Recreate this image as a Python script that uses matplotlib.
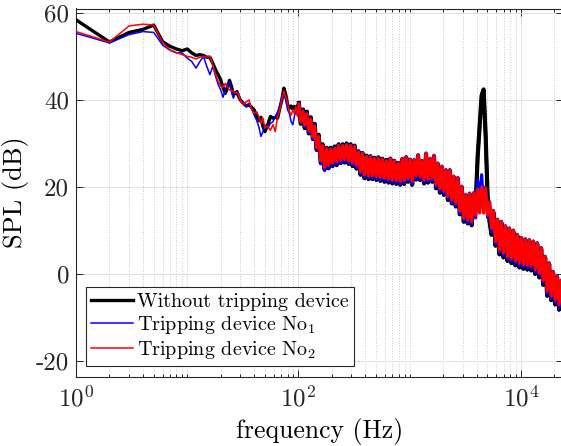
import matplotlib
matplotlib.use("Agg")
import matplotlib.pyplot as plt
from matplotlib.ticker import LogLocator, FixedLocator, FuncFormatter, NullFormatter

plt.rcParams["font.family"] = "serif"
plt.rcParams["font.serif"] = ["cmr10", "DejaVu Serif"]
plt.rcParams["mathtext.fontset"] = "cm"
plt.rcParams["axes.formatter.use_mathtext"] = True
plt.rcParams["axes.unicode_minus"] = False

# frequency axis (Hz), 1 Hz steps at the low end
freq_low = [1, 2, 3, 4, 5, 6, 7, 8, 9, 10, 11, 12, 13, 14, 15, 16, 17, 18, 19, 20,
            21, 22, 23, 24, 25, 26, 27, 28, 29, 30, 32, 34, 36, 38, 40, 42, 44, 46, 48, 50,
            53, 56, 59, 62, 65, 68, 71, 74, 77, 80, 83, 86, 89, 92, 95, 98]
freq_high = [101, 105, 110, 114, 119, 124, 129, 135, 140, 146,
             152, 159, 165, 172, 180, 187, 195, 203, 212, 221,
             230, 240, 250, 260, 271, 283, 295, 307, 320, 333,
             347, 362, 377, 393, 410, 427, 445, 463, 483, 503,
             524, 546, 569, 593, 618, 644, 671, 699, 728, 759,
             791, 824, 858, 894, 932, 971, 1012, 1054, 1098, 1144,
             1192, 1242, 1294, 1349, 1405, 1464, 1526, 1590, 1656, 1726,
             1798, 1874, 1952, 2034, 2120, 2209, 2301, 2398, 2498, 2603,
             2712, 2826, 2945, 3068, 3197, 3331, 3471, 3617, 3768, 3927,
             4091, 4263, 4442, 4629, 4823, 5025, 5236, 5456, 5685, 5924,
             6172, 6431, 6701, 6983, 7276, 7581, 7899, 8231, 8576, 8936,
             9311, 9702, 10109, 10533, 10975, 11436, 11916, 12416, 12937, 13480,
             14046, 14635, 15250, 15890, 16557, 17252, 17976, 18731, 19517, 20336,
             21190, 22079, 23006, 23971]

# SPL (dB), without tripping device
spl_ref_low = [58.4, 53.3, 55.5, 56.2, 57.2, 53.4, 52.3, 51.7, 51.3, 51.7,
               50.8, 50.2, 50.4, 50.2, 49.8, 49.8, 48.4, 46.9, 45.8, 44.6,
               42.9, 41.5, 42.7, 44.5, 43.1, 41.2, 41.5, 41.9, 40.8, 40.0,
               39.2, 38.6, 38.9, 38.3, 37.7, 36.2, 35.2, 36.0, 33.9, 32.7,
               34.3, 36.2, 35.8, 36.0, 35.8, 38.1, 40.0, 42.7, 41.2, 38.9,
               38.1, 38.6, 37.9, 38.5, 37.7, 38.6]
spl_ref_high = [39.3, 34.5, 37.8, 33.5, 37.3, 32.3, 36.0, 31.0, 34.5, 28.5,
                32.0, 25.5, 29.8, 24.0, 29.0, 24.3, 29.0, 24.8, 29.3, 25.0,
                29.8, 25.5, 29.8, 25.6, 30.0, 25.3, 29.8, 24.8, 29.5, 24.2,
                28.2, 22.8, 27.8, 22.0, 27.2, 21.8, 27.0, 21.8, 26.7, 21.6,
                26.8, 21.4, 26.5, 21.2, 26.2, 21.0, 26.5, 20.8, 26.0, 20.7,
                25.5, 20.5, 26.3, 20.7, 26.8, 21.2, 26.2, 20.5, 26.0, 21.7,
                27.2, 21.6, 25.8, 20.8, 27.5, 21.0, 26.3, 21.2, 27.0, 19.7,
                25.2, 18.7, 24.5, 18.2, 23.7, 17.0, 23.7, 16.2, 22.2, 15.5,
                21.9, 13.7, 19.9, 12.0, 18.0, 11.6, 18.3, 11.2, 18.0, 16.0,
                27.0, 34.0, 41.0, 42.4, 32.0, 18.0, 12.0, 9.0, 14.0, 6.5,
                12.2, 4.5, 11.7, 3.8, 10.7, 3.0, 10.2, 2.5, 9.7, 2.0,
                8.8, 1.5, 8.1, 1.2, 7.9, 1.0, 7.6, 0.8, 7.3, 0.0,
                6.9, -0.8, 5.8, -2.5, 3.8, -5.0, 2.3, -6.0, 0.3, -7.0,
                -0.7, -8.2, -1.7, -9.5]

# SPL (dB), tripping device No1
spl_no1_low = [55.3, 53.1, 55.0, 55.7, 55.5, 52.6, 51.4, 50.8, 50.8, 49.6,
               48.8, 47.3, 48.8, 50.0, 47.7, 45.8, 47.7, 45.4, 43.5, 42.3,
               40.6, 42.3, 43.8, 44.2, 41.9, 40.4, 41.5, 41.9, 41.4, 40.0,
               39.2, 38.5, 39.2, 38.1, 36.5, 35.4, 33.9, 31.6, 32.7, 34.3,
               33.5, 34.6, 35.0, 36.2, 37.3, 38.5, 40.8, 41.2, 40.0, 37.7,
               36.9, 35.0, 34.3, 36.2, 37.7, 36.5]
spl_no1_high = [39.2, 34.8, 37.5, 33.8, 37.0, 32.5, 35.7, 31.0, 34.2, 28.5,
                31.7, 25.3, 29.6, 23.8, 28.9, 24.4, 28.8, 24.9, 29.0, 25.2,
                29.7, 25.6, 29.6, 25.7, 29.9, 25.4, 29.6, 25.0, 29.4, 24.4,
                28.1, 23.0, 27.9, 22.2, 27.1, 22.0, 27.2, 22.0, 26.6, 21.8,
                26.7, 21.6, 26.5, 21.4, 26.1, 21.2, 26.6, 21.0, 26.1, 20.9,
                25.5, 20.7, 26.6, 20.9, 26.9, 21.4, 26.4, 20.7, 26.3, 21.9,
                27.4, 21.8, 26.1, 21.0, 27.8, 21.2, 26.6, 21.4, 27.3, 19.9,
                25.5, 18.9, 24.8, 18.4, 24.0, 17.2, 24.0, 16.4, 22.5, 15.7,
                22.2, 13.9, 20.2, 12.2, 18.3, 11.8, 18.6, 11.4, 18.7, 12.9,
                21.5, 16.0, 22.8, 15.0, 20.0, 13.0, 16.6, 9.8, 14.6, 6.9,
                12.6, 5.0, 12.1, 4.2, 11.1, 3.4, 10.6, 2.9, 10.1, 2.4,
                9.1, 1.9, 8.4, 1.6, 8.1, 1.4, 7.9, 1.2, 7.6, 0.4,
                7.2, -0.4, 6.1, -2.0, 4.1, -4.6, 2.6, -5.6, 0.6, -6.6,
                -0.4, -7.7, -1.4, -9.0]

# SPL (dB), tripping device No2
spl_no2_low = [55.7, 53.3, 57.0, 57.4, 57.2, 53.2, 51.5, 50.9, 50.4, 50.0,
               49.8, 49.4, 49.8, 50.0, 49.8, 50.0, 48.1, 45.8, 44.2, 43.2,
               42.9, 43.8, 42.9, 42.3, 42.1, 42.1, 41.5, 41.7, 41.2, 40.0,
               38.9, 39.6, 40.0, 37.7, 36.9, 37.3, 36.2, 34.6, 35.8, 33.5,
               34.0, 33.0, 34.3, 32.7, 36.2, 37.7, 40.0, 42.0, 40.8, 39.2,
               37.3, 36.5, 37.7, 36.9, 38.5, 36.2]
spl_no2_high = [39.0, 35.0, 37.3, 34.2, 36.8, 33.0, 35.5, 31.5, 34.0, 29.0,
                31.5, 26.0, 29.5, 24.5, 28.8, 25.0, 28.7, 25.5, 28.8, 25.8,
                29.5, 26.2, 29.5, 26.3, 29.7, 26.0, 29.5, 25.5, 29.3, 25.0,
                28.0, 23.5, 27.7, 22.8, 27.0, 22.5, 27.0, 22.6, 26.5, 22.4,
                26.6, 22.2, 26.4, 22.0, 26.0, 21.8, 26.5, 21.6, 26.0, 21.5,
                25.4, 21.3, 26.5, 21.5, 26.8, 22.0, 26.3, 21.3, 26.2, 22.5,
                27.3, 22.4, 26.0, 21.6, 27.7, 21.8, 26.5, 22.0, 27.2, 20.5,
                25.4, 19.5, 24.7, 19.0, 23.9, 17.8, 23.9, 17.0, 22.4, 16.3,
                22.1, 14.5, 20.1, 12.8, 18.2, 12.4, 18.5, 12.0, 18.6, 13.5,
                19.5, 14.0, 20.0, 14.0, 19.7, 13.5, 16.5, 10.5, 14.5, 7.5,
                12.5, 5.5, 12.0, 4.8, 11.0, 4.0, 10.5, 3.5, 10.0, 3.0,
                9.0, 2.5, 8.3, 2.2, 8.0, 2.0, 7.8, 1.8, 7.5, 1.0,
                7.1, 0.2, 6.0, -1.5, 4.0, -4.0, 2.5, -5.0, 0.5, -6.0,
                -0.5, -7.0, -1.5, -8.0]

labels = ["Without tripping device", "Tripping device No$_1$", "Tripping device No$_2$"]

freq = freq_low + freq_high
spl_ref = spl_ref_low + spl_ref_high
spl_no1 = spl_no1_low + spl_no1_high
spl_no2 = spl_no2_low + spl_no2_high

fig = plt.figure(figsize=(5.61, 4.46), dpi=100)
ax = fig.add_axes([76 / 561, 69.3 / 446, 487.1 / 561, 368.2 / 446])

# full spectra, then the dense high-frequency part drawn heavier so it reads as a band
ax.plot(freq, spl_ref, color="black", lw=2.4, label=labels[0], zorder=3)
ax.plot(freq_high, spl_ref_high, color="black", lw=3.0, zorder=3.1)
ax.plot(freq, spl_no1, color="blue", lw=1.1, label=labels[1], zorder=4)
ax.plot(freq_high, spl_no1_high, color="blue", lw=2.3, zorder=4.1)
ax.plot(freq, spl_no2, color="red", lw=1.1, label=labels[2], zorder=5)
ax.plot(freq_high, spl_no2_high, color="red", lw=2.3, zorder=5.1)

ax.set_xscale("log")
ax.set_xlim(1, 24000)
ax.set_ylim(-23.6, 61)

ax.xaxis.set_major_locator(LogLocator(base=100, numticks=10))
ax.xaxis.set_minor_locator(LogLocator(base=10, subs=range(1, 10), numticks=20))
ax.xaxis.set_minor_formatter(NullFormatter())
ax.yaxis.set_major_locator(FixedLocator([-20, 0, 20, 40, 60]))
ax.yaxis.set_major_formatter(FuncFormatter(lambda v, p: "%d" % v))

ax.grid(True, which="major", color="#e0e0e0", lw=0.7, ls="-", zorder=0)
ax.grid(True, which="minor", axis="x", color="#c8c8c8", lw=0.7, ls=":", zorder=0)
ax.set_axisbelow(True)

ax.tick_params(which="both", direction="in", top=True, right=True, colors="#262626",
               labelsize=18, width=0.7)
ax.tick_params(which="major", length=5)
ax.tick_params(axis="x", which="major", pad=6)
ax.tick_params(axis="y", which="major", pad=5)
ax.tick_params(which="minor", length=2.5)
for s in ax.spines.values():
    s.set_color("#262626")
    s.set_linewidth(0.8)

ax.set_xlabel("frequency (Hz)", fontsize=18.5, labelpad=5)
ax.set_ylabel("SPL (dB)", fontsize=19, labelpad=5)

leg = ax.legend(loc="lower left", bbox_to_anchor=(0.0205, 0.030), borderaxespad=0,
                fontsize=14.5, handlelength=2.1, handletextpad=0.2, labelspacing=0.15,
                borderpad=0.25, fancybox=False, framealpha=1, edgecolor="#262626")
leg.get_frame().set_linewidth(0.8)

fig.savefig("out.png", dpi=100)
